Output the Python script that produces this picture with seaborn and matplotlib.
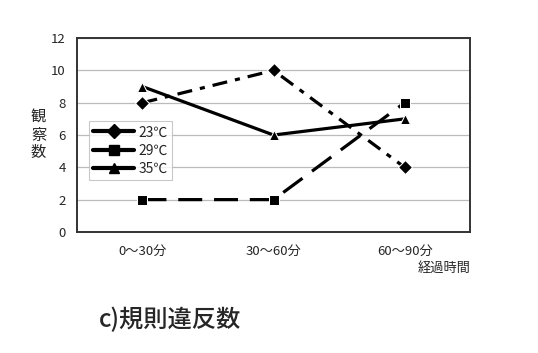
import matplotlib
matplotlib.use("Agg")
import matplotlib.pyplot as plt
import seaborn as sns
import pandas as pd

sns.set_style("white")
plt.rcParams['font.family'] = ['Noto Sans CJK JP', 'DejaVu Sans']

# データ
periods = ['0～30分', '30～60分', '60～90分']
temps = ['23℃', '29℃', '35℃']
v23 = [8, 10, 4]
v29 = [2, 2, 8]
v35 = [9, 6, 7]

df = pd.DataFrame({
    'x': list(range(3)) * 3,
    'y': v23 + v29 + v35,
    '温度': [t for t in temps for _ in range(3)],
})

fig = plt.figure(figsize=(5.38, 3.53), dpi=100)
ax = fig.add_axes([0.143, 0.343, 0.731, 0.549])

sns.lineplot(data=df, x='x', y='y', hue='温度', style='温度',
             palette=['black'] * 3,
             dashes={'23℃': (4.7, 2.5, 1.6, 2.5), '29℃': (7.5, 3.7), '35℃': ''},
             markers={'23℃': 'D', '29℃': 's', '35℃': '^'},
             markersize=7, linewidth=2.3, ax=ax, legend=False)

ax.set_xlim(-0.5, 2.5)
ax.set_ylim(0, 12)
ax.set_yticks(range(0, 13, 2))
ax.set_xticks(range(3))
ax.set_xticklabels(periods, fontsize=9.5)
ax.set_xticks([0.5, 1.5], minor=True)
ax.tick_params(axis='x', which='major', length=0, pad=9)
ax.tick_params(axis='x', which='minor', length=4, direction='in', color='#444444')
ax.tick_params(axis='y', length=0, labelsize=9.5, pad=8)
ax.yaxis.grid(True, color='#bbbbbb', linewidth=0.9)
ax.set_axisbelow(True)
for s in ax.spines.values():
    s.set_color('#333333')
    s.set_linewidth(1.4)

ax.set_xlabel('')
ax.set_ylabel('観\n察\n数', rotation=0, fontsize=11, labelpad=9, va='center', linespacing=1.05)
ax.text(1.0, -0.155, '経過時間', transform=ax.transAxes, ha='right', va='top', fontsize=9.5)

# 凡例(実線で表示)
handles = [
    plt.Line2D([], [], color='black', lw=3, marker=m, markersize=7)
    for m in ['D', 's', '^']
]
leg = ax.legend(handles, temps, loc='center left', bbox_to_anchor=(0.012, 0.42), fontsize=10,
                handlelength=3.0, frameon=True, fancybox=False, borderpad=0.3,
                labelspacing=0.3, handletextpad=0.3)
leg.get_frame().set_edgecolor('#bbbbbb')
leg.get_frame().set_linewidth(0.8)

fig.text(0.183, 0.093, 'c)規則違反数', fontsize=17.5, ha='left', va='center', fontweight='medium')

fig.savefig('out.png', dpi=100)
